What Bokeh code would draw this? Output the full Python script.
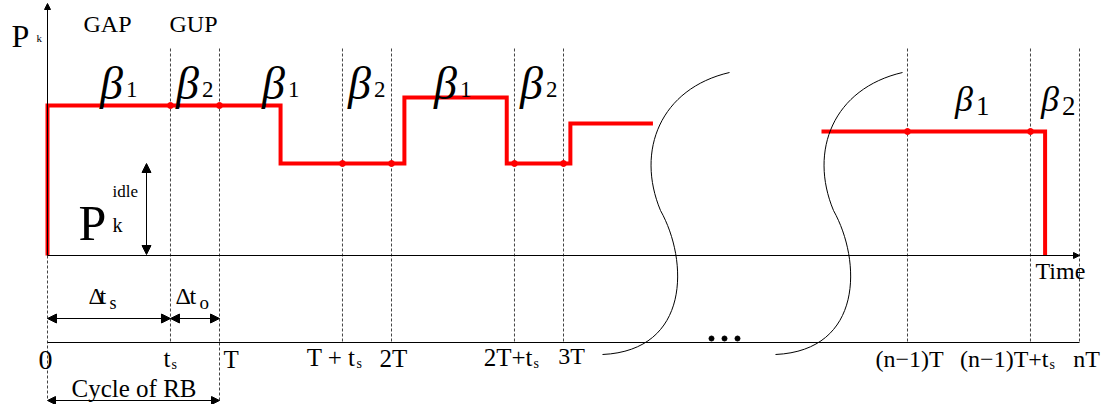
import numpy as np
from bokeh.plotting import figure
from bokeh.models import Range1d, Arrow, NormalHead
from bokeh.core.properties import value
from bokeh.embed import file_html
from bokeh.resources import INLINE

# ---------------- data (time in units of T, power in arbitrary units) ----------------
mark_times = [0.0, 0.715, 1.0, 1.715, 2.0, 2.715, 3.0, 5.0, 5.715, 6.0]
mark_labels = ["0", "t", "T", "T + t", "2T", "2T+t", "3T", "(n\u22121)T", "(n\u22121)T+t", "nT"]
mark_subs = ["", "s", "", "s", "", "s", "", "", "s", ""]

# stepwise power of RB k before the break
step_times = [0.0, 1.355, 2.075, 2.67, 3.04]
step_power = [15.0, 9.2, 15.8, 9.2, 13.2]
head_end = 3.52
# after the break
tail_start = 4.5
tail_power = 12.4
tail_end = 5.80

idle_power = 9.2
ts_value = 0.715
period = 1.0

slot_subs = ["1", "2", "1", "2", "1", "2", "1", "2"]
slot_starts = [0.0, 0.715, 1.0, 1.715, 2.0, 2.715, 5.0, 5.715]
slot_ends = [0.715, 1.0, 1.715, 2.0, 2.715, 3.0, 5.715, 6.0]

# ---------------- layout helpers (pixel -> data) ----------------
X0, SX, Y0, SY = 47.0, 172.0, 255.0, 10.0
W, H = 1101, 404
TEXT_DY = -8  # compensation: rendered text sits lower than its anchor


def X(px):
    return (px - X0) / SX


def Y(py):
    return (Y0 - py) / SY


p = figure(width=W, height=H,
           x_range=Range1d(X(0), X(W)), y_range=Range1d(Y(H), Y(0)),
           output_backend="svg", toolbar_location=None, min_border=0)
p.axis.visible = False
p.grid.visible = False
p.outline_line_color = None
p.background_fill_color = "white"

FONT = value("Liberation Serif")


def label(px, py, s, size, align="left", style="normal"):
    p.text(x=[X(px)], y=[Y(py + TEXT_DY)], text=[s], text_font=FONT,
           text_font_size=value(f"{size}px"), text_align=align,
           text_baseline="alphabetic", text_color="black",
           text_font_style=style)


def darrow(x0, y0, x1, y1, both=True, size=9):
    head = lambda: NormalHead(size=size, fill_color="black", line_color="black", line_width=1)
    p.add_layout(Arrow(start=head() if both else None, end=head(),
                       x_start=x0, y_start=y0, x_end=x1, y_end=y1,
                       line_color="black", line_width=1))


# ---------------- dashed time markers ----------------
top_y, bottom_y, low_y = Y(48), Y(342), Y(400)
dash_times = mark_times[1:]
p.segment(x0=dash_times, y0=[top_y] * len(dash_times), x1=dash_times,
          y1=[bottom_y] * len(dash_times), line_color="#444444",
          line_width=1, line_dash="3 2")
p.segment(x0=[0.0, period], y0=[0.0, bottom_y], x1=[0.0, period], y1=[low_y, low_y],
          line_color="#444444", line_width=1, line_dash="3 2")

# ---------------- axes ----------------
nT = mark_times[-1]
p.segment(x0=[0.0], y0=[bottom_y], x1=[nT], y1=[bottom_y], line_color="black", line_width=1)
darrow(0.0, 0.0, nT, 0.0, both=False, size=6)
darrow(0.0, 0.0, 0.0, Y(3), both=False, size=6)

# ---------------- red power profile ----------------
xs, ys = [0.0], [0.0]
for t, pw in zip(step_times, step_power):
    xs += [t, t]
    ys += [ys[-1], pw]
xs.append(head_end)
ys.append(step_power[-1])
p.line(xs[1:], ys[1:], line_color="#ff0000", line_width=4, line_join="miter")
p.line([tail_start, tail_end, tail_end], [tail_power, tail_power, 0.0],
       line_color="#ff0000", line_width=4, line_join="miter")


def power_at(t):
    if t >= tail_start:
        return tail_power
    idx = max(i for i, st in enumerate(step_times) if st <= t)
    return step_power[idx]


dot_t = [t for t in mark_times[1:-1]]
p.scatter(dot_t, [power_at(t) for t in dot_t], size=6, color="#ff0000")

# ---------------- break curves ----------------
for shift in (0.0, 173.0):
    segs = [((729, 72), (660, 88), (635, 150), (660, 210)),
            ((660, 210), (688, 260), (690, 350), (602, 354))]
    for a, c0, c1, b in segs:
        p.bezier(x0=[X(a[0] + shift)], y0=[Y(a[1])], x1=[X(b[0] + shift)], y1=[Y(b[1])],
                 cx0=[X(c0[0] + shift)], cy0=[Y(c0[1])], cx1=[X(c1[0] + shift)], cy1=[Y(c1[1])],
                 line_color="black", line_width=1)

# ellipsis dots
p.scatter([X(711), X(724), X(737)], [Y(338)] * 3, size=5, color="black")

# ---------------- arrows ----------------
darrow(X(146), Y(254), X(146), idle_power)
darrow(0.0, Y(318), ts_value, Y(318))
darrow(ts_value, Y(318), period, Y(318))
darrow(0.0, low_y, period, low_y, size=8)

# ---------------- texts ----------------
label(11, 43, "P", 32)
label(36, 45, "k", 11)
label(83, 31, "GAP", 24)
label(169, 31, "GUP", 24)

centers_px = [X0 + SX * (a + b) / 2 for a, b in zip(slot_starts, slot_ends)]
centers_px[0] += 10
for i, (c, s) in enumerate(zip(centers_px, slot_subs)):
    if i < 6:
        label(c + 4, 91, "\u03b2", 46, align="right", style="italic")
        label(c + 7, 97, s, 23)
    else:
        label(c + 4, 106, "\u03b2", 36, align="right", style="italic")
        label(c + 7, 113, s, 27)

label(78, 230, "P", 50)
label(112, 199, "idle", 17)
label(112, 232, "k", 20)

label(88, 303, "\u0394", 24)
label(99, 303, "t", 24)
label(109, 310, "s", 18)
label(175, 303, "\u0394", 24)
label(189, 303, "t", 24)
label(199, 310, "o", 19)

label(71, 396, "Cycle of RB", 25)
label(1035, 278, "Time", 24)

anchor_px = [45, 170, 223, 355, 393, 532, 571, 909, 1048, 1086]
aligns = ["center", "right", "left", "right", "center", "right", "center", "center", "right", "center"]
base_px = [367, 366, 367, 365, 366, 365, 363, 366, 366, 366]
sizes = [28, 25, 25, 25, 25, 25, 24, 24, 24, 24]
for txt, sub, ax, al, bp, sz in zip(mark_labels, mark_subs, anchor_px, aligns, base_px, sizes):
    label(ax, bp, txt, sz, align=al)
    if sub:
        label(ax + 1, bp + 6, sub, 14)

open("out.html", "w").write(file_html(p, INLINE))
